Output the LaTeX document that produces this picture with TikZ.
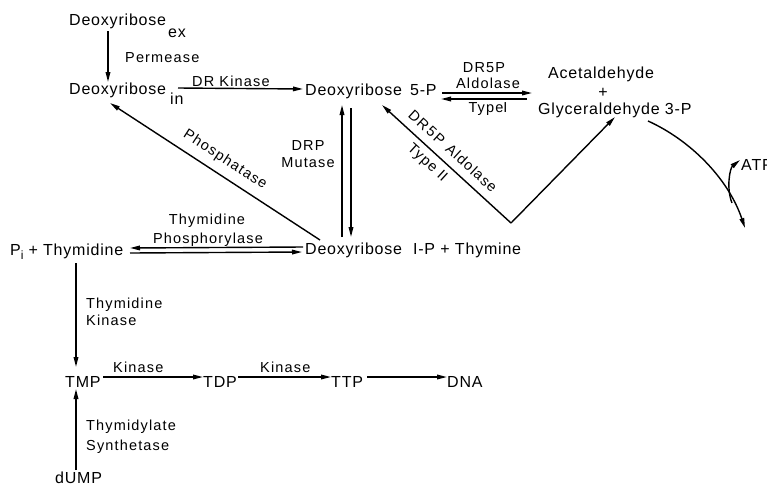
\documentclass[tikz,border=0pt]{standalone}
\usepackage{fontspec}
\setmainfont{Liberation Sans}
\usetikzlibrary{arrows.meta,calc}

\newcommand{\chemfont}{\fontsize{16}{18}\selectfont\addfontfeature{LetterSpace=5}}
\newcommand{\enzfont}{\fontsize{14.5}{17}\selectfont\addfontfeature{LetterSpace=8}}

\begin{document}
\begin{tikzpicture}[x=1pt,y=-1pt,
  chem/.style={anchor=base west, inner sep=0pt, font=\chemfont},
  enz/.style={anchor=base west, inner sep=0pt, font=\enzfont},
  enzc/.style={anchor=base, inner sep=0pt, font=\enzfont},
  enzr/.style={anchor=center, inner sep=0pt, font=\enzfont},
  arr/.style={line width=1.4pt, -{Triangle[length=10pt,width=4.6pt]}},
  plain/.style={line width=1.4pt}]
\useasboundingbox (0,0) rectangle (767,485);
\clip (0,0) rectangle (767,485);

% compounds
\node[chem] (dex)  at (69,25)  {Deoxyribose};
\node[chem] (dexs) at (168,37) {ex};
\node[chem] (din)  at (69,94)  {Deoxyribose};
\node[chem] (dins) at (170,104) {in};
\node[chem] (d5p)  at (305,95) {Deoxyribose\hspace{8pt}5-P};
\node[chem] (ace)  at (548,78) {Acetaldehyde};
\node[chem, anchor=base] (plus) at (603,97) {+};
\node[chem] (gly)  at (538,114) {Glyceraldehyde 3-P};
\node[chem] (atp)  at (741,170) {ATP};
\node[chem] (pthy) at (10,255) {P\raisebox{-4pt}{\fontsize{12}{12}\selectfont i}\hspace{5pt}+ Thymidine};
\node[chem] (d1p)  at (305,254) {Deoxyribose\hspace{11pt}I-P + Thymine};
\node[chem] (tmp)  at (65,387) {TMP};
\node[chem] (tdp)  at (203,387) {TDP};
\node[chem] (ttp)  at (331,387) {TTP};
\node[chem] (dna)  at (447,387) {DNA};
\node[chem] (dump) at (55,483) {dUMP};

% enzyme labels
\node[enz] (perm) at (125,62) {Permease};
\node[enz] (drk)  at (192,86) {DR Kinase};
\node[enzc] (t1a) at (484,72) {DR5P};
\node[enzc] (t1b) at (488,88) {Aldolase};
\node[enzc] (t1c) at (488,112) {Type$\mathrm{I}$};
\node[enzc] (drp) at (308,150) {DRP};
\node[enzc] (mut) at (308,167) {Mutase};
\node[enzc] (tp1) at (207,224) {Thymidine};
\node[enzc] (tp2) at (208,243) {Phosphorylase};
\node[enz] (tk1) at (86,308) {Thymidine};
\node[enz] (tk2) at (86,325) {Kinase};
\node[enz] (k1)  at (113,372) {Kinase};
\node[enz] (k2)  at (260,372) {Kinase};
\node[enz] (ts1) at (86,430) {Thymidylate};
\node[enz] (ts2) at (86,450) {Synthetase};
\node[enzr, rotate=-33] (pho) at (225,160) {Phosphatase};
\node[enzr, rotate=-42.4] (a2a) at (453,151) {DR\,5P\hspace{7pt}Aldolase};
\node[enzr, rotate=-42.4] (a2b) at (427,163) {Type $\mathrm{II}$};

% free points
\coordinate (v)  at (511,223);
\coordinate (c1) at (745,228);
\coordinate (a0) at (732,203);

% reactions
\draw[arr] ([shift={(39,6)}]dex.base west) -- ([shift={(39,-12)}]din.base west);
\draw[arr] ([shift={(109,-6)}]din.base west) -- ([shift={(-2,-6)}]d5p.base west);
\draw[arr] ([shift={(137,-2)}]d5p.base west) -- ([shift={(-6,-21)}]gly.base west);
\draw[arr] ([shift={(-11,-15)}]gly.base west) -- ([shift={(136,4)}]d5p.base west);
\draw[arr] ([shift={(37,-17)}]d1p.base west) -- ([shift={(37,10)}]d5p.base west);
\draw[arr] ([shift={(46,13)}]d5p.base west) -- ([shift={(46,-17)}]d1p.base west);
\draw[arr] ([shift={(15,-14)}]d1p.base west) -- ([shift={(41,9)}]din.base west);
\draw[arr] (v) -- ([shift={(77,10)}]d5p.base west);
\draw[arr] (v) -- ([shift={(77,3)}]gly.base west);
\draw[arr] ([shift={(-2,-7)}]d1p.base west) -- ([shift={(120,-7)}]pthy.base west);
\draw[arr] ([shift={(120,-2)}]pthy.base west) -- ([shift={(-3,-2)}]d1p.base west);
\draw[arr] ([shift={(66,8)}]pthy.base west) -- ([shift={(11,-20)}]tmp.base west);
\draw[arr] ([shift={(21,-13)}]dump.base west) -- ([shift={(11,2)}]tmp.base west);
\draw[arr] ([shift={(38,-10)}]tmp.base west) -- ([shift={(0,-10)}]tdp.base west);
\draw[arr] ([shift={(35,-10)}]tdp.base west) -- ([shift={(0,-10)}]ttp.base west);
\draw[arr] ([shift={(36,-10)}]ttp.base west) -- ([shift={(0,-10)}]dna.base west);
\draw[arr] ([shift={(110,7)}]gly.base west) .. controls (690,140) and (728,178) .. (c1);
\draw[arr] (a0) .. controls (726,188) and (730,168) .. ([shift={(-1,-10)}]atp.base west);
\end{tikzpicture}
\end{document}
